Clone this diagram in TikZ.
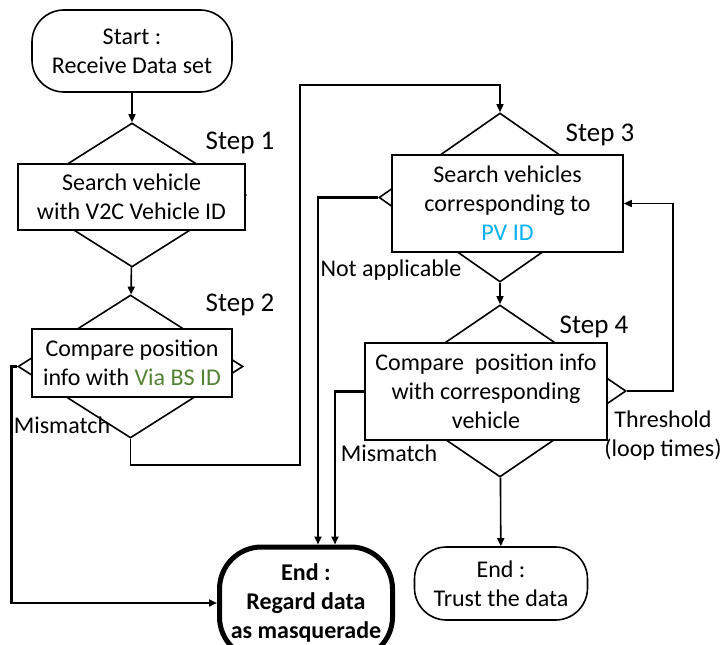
\documentclass[tikz,border=0pt]{standalone}
\usepackage{fontspec}
\setmainfont{Carlito}
\usetikzlibrary{shapes.geometric,arrows.meta}
\definecolor{bsgreen}{HTML}{548235}
\definecolor{pvblue}{HTML}{00B0F0}

\begin{document}
\begin{tikzpicture}[x=1pt,y=-1pt,
  font=\fontsize{24}{29}\selectfont,
  >={Triangle[length=8pt,width=7pt]},
  terminal/.style={draw,line width=1.6pt,rounded corners=32pt,align=center,inner sep=0pt},
  decision/.style={draw,diamond,line width=1.6pt,inner sep=0pt},
  stepbox/.style={draw,fill=white,line width=1.6pt,align=center,inner sep=0pt},
  flow/.style={line width=1.6pt,->},
  reject/.style={line width=2.6pt,->},
  note/.style={align=center,inner sep=0pt},
  steplabel/.style={inner sep=0pt,font=\fontsize{27}{32}\selectfont}]
  \useasboundingbox (0,0) rectangle (721,645);

  \node[terminal,minimum width=200pt,minimum height=82pt] (start) at (132,51) {Start :\\Receive Data set};
  \node[decision,minimum width=228pt,minimum height=144pt] (d1) at (132,195) {};
  \node[stepbox,minimum width=227pt,minimum height=66pt] (r1) at (131.5,197) {Search vehicle\\with V2C Vehicle ID};
  \node[decision,minimum width=225pt,minimum height=143pt] (d2) at (130.5,366.5) {};
  \node[stepbox,minimum width=200pt,minimum height=68pt] (r2) at (132,363) {Compare position\\info with \textcolor{bsgreen}{Via BS ID}};
  \node[decision,minimum width=242pt,minimum height=169pt] (d3) at (500,197.5) {};
  \node[stepbox,minimum width=231pt,minimum height=97pt] (r3) at (507.5,203.5) {Search vehicles\\corresponding to\\\textcolor{pvblue}{PV ID}};
  \node[decision,minimum width=252pt,minimum height=172pt] (d4) at (500,391) {};
  \node[stepbox,minimum width=242pt,minimum height=97pt] (r4) at (486,391.5) {Compare\ \ position info\\with corresponding\\vehicle};
  \node[terminal,line width=5pt,rounded corners=42pt,minimum width=173pt,minimum height=112pt,font=\fontsize{24}{29}\selectfont\bfseries] (fake) at (306,603) {End :\\Regard data\\as masquerade};
  \node[terminal,minimum width=173pt,minimum height=73pt] (trust) at (501,583.5) {End :\\Trust the data};

  \node[steplabel] (s1) at (240,143) {Step 1};
  \node[steplabel] (s2) at (240,305) {Step 2};
  \node[steplabel] (s3) at (600,135) {Step 3};
  \node[steplabel] (s4) at (594,327) {Step 4};
  \node[note] (mm2) at (62,425) {Mismatch};
  \node[note] (na3) at (391,270) {Not applicable};
  \node[note] (mm4) at (389,453) {Mismatch};
  \node[note] (th4) at (663,436) {Threshold\\(loop times)};

  \draw[flow] (start) -- (d1);
  \draw[flow] (d1) -- (d2);
  \draw[flow] (d2.south) |- (300,465) -- (300,85) -| (d3.north);
  \draw[flow] (d3) -- (d4);
  \draw[flow] (d4.east) -- ++(46,0) |- (r3.east);
  \draw[flow] (d4) -- (trust);
  \draw[reject] (d2.west) -- ++(-6,0) |- (fake.west);
  \draw[reject] (d3.west) -| ([xshift=12pt]fake.north);
  \draw[reject] (r4.west) -| ([xshift=29pt]fake.north);
\end{tikzpicture}
\end{document}
